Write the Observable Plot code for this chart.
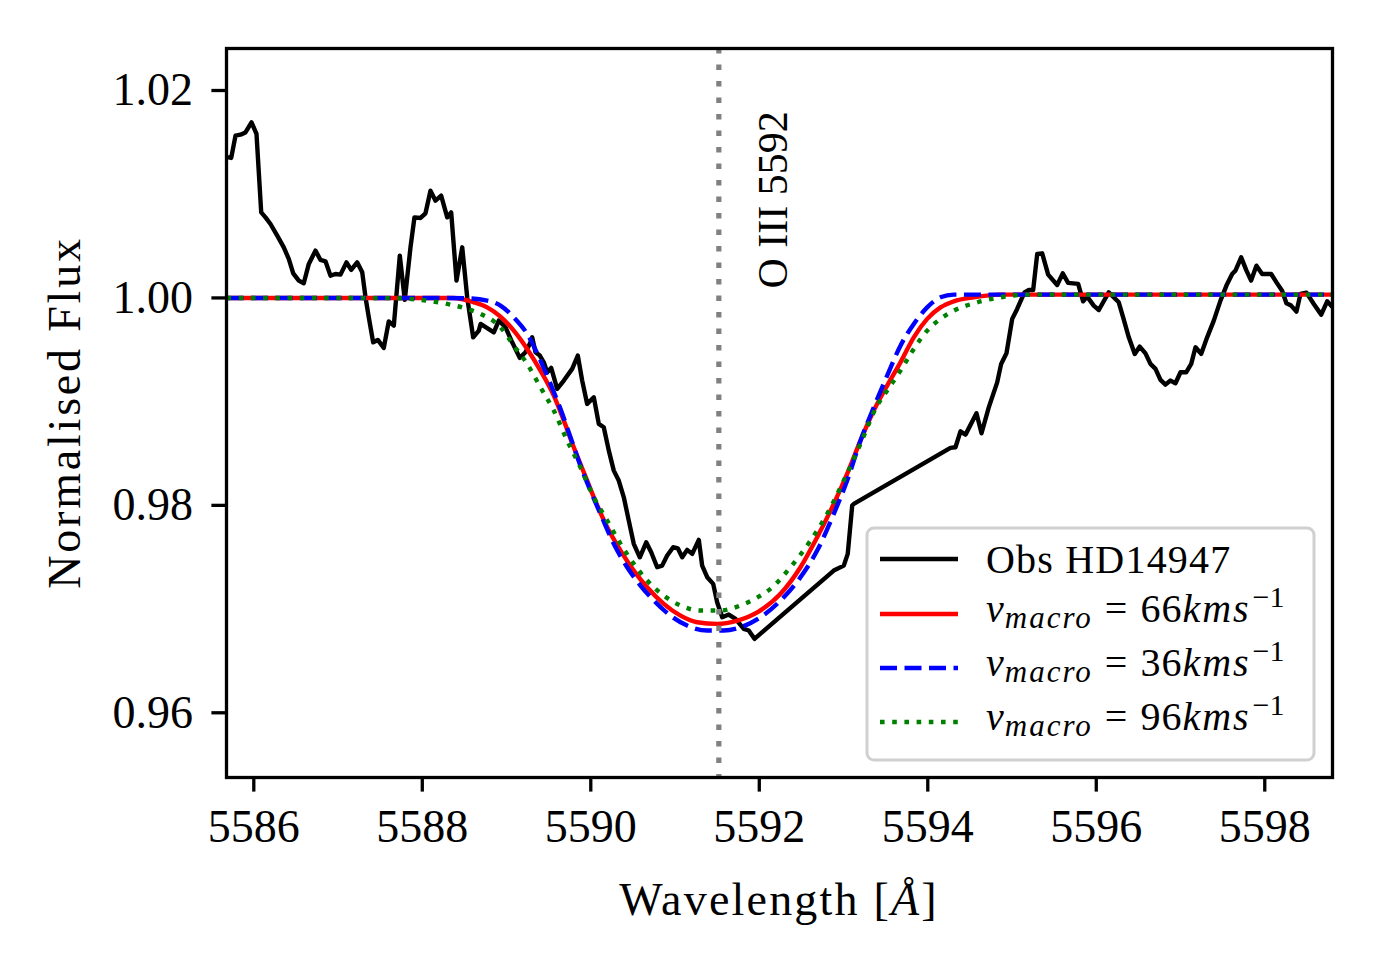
<!DOCTYPE html>
<html>
<head>
<meta charset="utf-8">
<script src="https://cdn.jsdelivr.net/npm/d3@7"></script>
<script src="https://cdn.jsdelivr.net/npm/@observablehq/plot@0.6"></script>
<style>
  html, body { margin: 0; padding: 0; background: #fff; }
  svg { display: block; }
</style>
</head>
<body>
<div id="chart"></div>
<script>
// ---------- data ----------
const xTicks = [5586, 5588, 5590, 5592, 5594, 5596, 5598];
const yTicks = [0.96, 0.98, 1.00, 1.02];
const xDomain = [5585.676, 5598.804];
const yDomain = [0.95376, 1.02405];

const lineCentre = 5591.52;          // vertical dotted marker
const annotationText = "O III 5592";
const annotationX = 5592.33;
const annotationY = 1.0009;

const obsWave = [5585.703,5585.732,5585.783,5585.842,5585.901,5585.973,5586.032,5586.088,5586.139,5586.198,
  5586.278,5586.356,5586.415,5586.468,5586.534,5586.593,5586.653,5586.732,5586.792,5586.851,
  5586.910,5586.970,5587.029,5587.100,5587.156,5587.227,5587.287,5587.326,5587.365,5587.417,
  5587.472,5587.543,5587.602,5587.662,5587.733,5587.792,5587.860,5587.907,5587.979,5588.038,
  5588.097,5588.157,5588.224,5588.296,5588.343,5588.406,5588.474,5588.533,5588.604,5588.671,
  5588.692,5588.849,5588.908,5588.988,5589.067,5589.157,5589.225,5589.276,5589.304,5589.344,
  5589.395,5589.442,5589.483,5589.530,5589.601,5589.680,5589.779,5589.846,5589.898,5589.957,
  5590.036,5590.095,5590.154,5590.214,5590.273,5590.332,5590.392,5590.451,5590.510,5590.582,
  5590.658,5590.717,5590.788,5590.847,5590.907,5590.978,5591.033,5591.085,5591.144,5591.204,
  5591.282,5591.322,5591.382,5591.453,5591.500,5591.560,5591.638,5591.718,5591.816,5591.875,
  5591.943,5592.884,5593.003,5593.050,5593.103,5593.122,5594.269,5594.329,5594.388,5594.448,
  5594.578,5594.638,5594.724,5594.824,5594.871,5594.934,5595.002,5595.061,5595.148,5595.199,
  5595.251,5595.299,5595.358,5595.429,5595.536,5595.602,5595.666,5595.785,5595.844,5595.892,
  5595.970,5596.030,5596.148,5596.267,5596.319,5596.386,5596.457,5596.516,5596.584,5596.643,
  5596.703,5596.762,5596.821,5596.881,5596.940,5597.000,5597.067,5597.127,5597.178,5597.245,
  5597.316,5597.395,5597.474,5597.545,5597.613,5597.652,5597.720,5597.779,5597.838,5597.901,
  5597.969,5598.076,5598.139,5598.206,5598.257,5598.313,5598.376,5598.424,5598.495,5598.582,
  5598.670,5598.741,5598.800];
const obsFlux = [1.01355,1.01350,1.01565,1.01574,1.01596,1.01693,1.01581,1.00825,1.00777,1.00713,
  1.00601,1.00488,1.00376,1.00237,1.00167,1.00141,1.00328,1.00456,1.00366,1.00353,
  1.00215,1.00231,1.00225,1.00343,1.00270,1.00343,1.00247,1.00006,0.99813,0.99572,
  0.99595,0.99518,0.99774,0.99733,1.00408,0.99981,1.00488,1.00777,1.00771,1.00816,
  1.01034,1.00938,1.00986,1.00777,1.00825,1.00167,1.00488,1.00006,0.99620,0.99685,
  0.99749,0.99668,0.99781,0.99717,0.99572,0.99422,0.99476,0.99557,0.99620,0.99476,
  0.99444,0.99379,0.99283,0.99325,0.99123,0.99203,0.99316,0.99444,0.99203,0.98978,
  0.99042,0.98785,0.98753,0.98528,0.98335,0.98239,0.98078,0.97853,0.97629,0.97499,
  0.97644,0.97548,0.97403,0.97419,0.97516,0.97596,0.97586,0.97499,0.97571,0.97532,
  0.97667,0.97419,0.97307,0.97243,0.97066,0.96921,0.96947,0.96906,0.96809,0.96793,
  0.96713,0.97371,0.97419,0.97532,0.97998,0.98014,0.98554,0.98560,0.98714,0.98682,
  0.98888,0.98695,0.98945,0.99186,0.99364,0.99466,0.99798,0.99894,1.00054,1.00077,
  1.00077,1.00424,1.00430,1.00225,1.00125,1.00237,1.00145,1.00135,0.99967,1.00013,
  0.99926,0.99884,1.00054,0.99958,0.99813,0.99620,0.99460,0.99531,0.99466,0.99364,
  0.99316,0.99210,0.99164,0.99203,0.99177,0.99283,0.99283,0.99364,0.99524,0.99460,
  0.99620,0.99781,0.99974,1.00119,1.00231,1.00263,1.00391,1.00270,1.00167,1.00311,
  1.00231,1.00231,1.00150,1.00070,0.99948,0.99926,0.99868,1.00039,1.00051,0.99942,
  0.99839,0.99967,0.99916];

// v_macro = 66 km/s (red)
const wave66 = [5585.676,5588.370,5588.611,5588.770,5588.928,5589.086,5589.245,5589.403,5589.561,5589.680,
  5589.798,5589.917,5590.036,5590.195,5590.353,5590.510,5590.669,5590.866,5591.065,5591.263,
  5591.500,5591.738,5591.991,5592.252,5592.489,5592.687,5592.884,5593.043,5593.201,5593.359,
  5593.518,5593.676,5593.834,5593.993,5594.151,5594.309,5594.546,5594.863,5598.804];
const flux66 = [1.00000,1.00000,0.99958,0.99909,0.99820,0.99685,0.99508,0.99299,0.99058,0.98817,
  0.98560,0.98319,0.98078,0.97789,0.97564,0.97371,0.97210,0.97050,0.96937,0.96873,
  0.96857,0.96889,0.96976,0.97147,0.97403,0.97692,0.98014,0.98303,0.98624,0.98914,
  0.99155,0.99379,0.99620,0.99798,0.99909,0.99967,1.00006,1.00032,1.00032];

// v_macro = 36 km/s (blue)
const wave36 = [5585.676,5587.979,5588.533,5588.770,5588.928,5589.086,5589.245,5589.403,5589.522,5589.640,
  5589.759,5589.877,5589.996,5590.115,5590.273,5590.432,5590.590,5590.748,5590.946,5591.144,
  5591.382,5591.579,5591.816,5592.014,5592.252,5592.489,5592.687,5592.884,5593.043,5593.201,
  5593.359,5593.518,5593.676,5593.834,5593.993,5594.151,5594.309,5598.804];
const flux36 = [1.00000,1.00000,0.99996,0.99974,0.99926,0.99813,0.99653,0.99396,0.99171,0.98930,
  0.98656,0.98383,0.98142,0.97918,0.97629,0.97403,0.97227,0.97082,0.96937,0.96841,
  0.96793,0.96793,0.96836,0.96921,0.97082,0.97307,0.97564,0.97918,0.98239,0.98624,
  0.98945,0.99251,0.99540,0.99749,0.99909,1.00006,1.00032,1.00032];

// v_macro = 96 km/s (green)
const wave96 = [5585.676,5587.658,5587.979,5588.296,5588.533,5588.691,5588.928,5589.086,5589.245,5589.403,
  5589.561,5589.720,5589.877,5590.036,5590.195,5590.353,5590.510,5590.669,5590.866,5591.065,
  5591.302,5591.539,5591.776,5591.975,5592.133,5592.370,5592.608,5592.806,5593.003,5593.201,
  5593.399,5593.534,5593.676,5593.834,5593.993,5594.151,5594.309,5594.546,5594.863,5595.180,
  5598.804];
const flux96 = [1.00000,0.99998,0.99981,0.99942,0.99894,0.99846,0.99717,0.99540,0.99364,0.99138,
  0.98914,0.98624,0.98367,0.98078,0.97853,0.97629,0.97436,0.97275,0.97130,0.97034,
  0.96986,0.96986,0.97034,0.97111,0.97195,0.97403,0.97660,0.97918,0.98239,0.98593,
  0.98962,0.99126,0.99299,0.99508,0.99685,0.99798,0.99878,0.99948,1.00006,1.00032,
  1.00032];

const legendLabels = ["Obs HD14947", "66", "36", "96"];

// ---------- tables ----------
const toRows = (w, f) => w.map((x, i) => ({x, y: f[i]}));
const obs = toRows(obsWave, obsFlux);
const m66 = toRows(wave66, flux66);
const m36 = toRows(wave36, flux36);
const m96 = toRows(wave96, flux96);

const FONT = "'Liberation Serif', 'DejaVu Serif', serif";

const chart = Plot.plot({
  width: 1380,
  height: 973,
  marginLeft: 226,
  marginRight: 48,
  marginTop: 48,
  marginBottom: 196,
  style: {fontFamily: FONT, fontSize: "46px", background: "white", color: "black"},
  x: {domain: xDomain},
  y: {domain: yDomain},
  marks: [
    Plot.line(obs, {x: "x", y: "y", stroke: "black", strokeWidth: 4.4, clip: true, strokeLinejoin: "round"}),
    Plot.line(m66, {x: "x", y: "y", stroke: "#ff0000", strokeWidth: 4.4, clip: true, curve: "monotone-x"}),
    Plot.line(m36, {x: "x", y: "y", stroke: "#0000ff", strokeWidth: 4.4, clip: true, curve: "monotone-x", strokeDasharray: "17,7.5", strokeLinecap: "butt"}),
    Plot.line(m96, {x: "x", y: "y", stroke: "#008000", strokeWidth: 4.4, clip: true, curve: "monotone-x", strokeDasharray: "4.6,7.6", strokeLinecap: "butt"}),
    Plot.ruleX([lineCentre], {stroke: "#808080", strokeWidth: 5.2, strokeDasharray: "5.5,11", strokeLinecap: "butt"}),
    Plot.text([annotationText], {x: () => annotationX, y: () => annotationY, text: d => d, rotate: -90,
      textAnchor: "start", lineAnchor: "bottom", fontSize: 42, fill: "black", fontFamily: FONT}),
    Plot.frame({stroke: "black", strokeWidth: 3.3}),
    Plot.axisX({ticks: xTicks, tickSize: 14.6, tickPadding: 17, fontSize: 46, label: null,
      tickFormat: d => String(d), strokeWidth: 3.3}),
    Plot.axisY({ticks: yTicks, tickSize: 14.6, tickPadding: 19, fontSize: 46, label: null,
      tickFormat: d3.format(".2f"), strokeWidth: 3.3})
  ]
});
document.getElementById("chart").appendChild(chart);

// ---------- axis titles & legend (text with mixed styles) ----------
const svg = d3.select(chart);
const xs = chart.scale("x"), ys = chart.scale("y");
const fx0 = xs.range[0], fx1 = xs.range[1];
const fy0 = ys.range[1], fy1 = ys.range[0];   // top, bottom

const xl = svg.append("text")
  .attr("x", (fx0 + fx1) / 2).attr("y", fy1 + 138)
  .attr("text-anchor", "middle").attr("font-family", FONT).attr("font-size", 46)
  .attr("letter-spacing", 2.2).attr("fill", "black");
xl.append("tspan").text("Wavelength [");
xl.append("tspan").attr("font-style", "italic").text("Å");
xl.append("tspan").text("]");

svg.append("text")
  .attr("transform", `translate(${fx0 - 146},${(fy0 + fy1) / 2}) rotate(-90)`)
  .attr("text-anchor", "middle").attr("font-family", FONT).attr("font-size", 46)
  .attr("letter-spacing", 2.8).attr("fill", "black")
  .text("Normalised Flux");

// legend box
const lg = svg.append("g").attr("text-anchor", "start").style("text-anchor", "start");
const bx0 = fx1 - 465, by0 = fy1 - 249, bw = 447, bh = 232;
lg.append("rect").attr("x", bx0).attr("y", by0).attr("width", bw).attr("height", bh)
  .attr("rx", 7).attr("ry", 7).attr("fill", "white").attr("fill-opacity", 0.85)
  .attr("stroke", "#d0d0d0").attr("stroke-width", 3);

const rowY = [31, 86, 140, 194];
const baseDy = [14, 8, 8, 8];
const styles = [
  {stroke: "black", dash: null},
  {stroke: "#ff0000", dash: null},
  {stroke: "#0000ff", dash: "17,7.5"},
  {stroke: "#008000", dash: "4.6,7.6"}
];
legendLabels.forEach((lab, i) => {
  const yy = by0 + rowY[i];
  const ln = lg.append("line").attr("x1", bx0 + 13).attr("x2", bx0 + 91)
    .attr("y1", yy).attr("y2", yy).attr("stroke", styles[i].stroke).attr("stroke-width", 4.4);
  if (styles[i].dash) ln.attr("stroke-dasharray", styles[i].dash);
  const t = lg.append("text").attr("x", bx0 + 119).attr("y", yy + baseDy[i])
    .attr("text-anchor", "start").style("text-anchor", "start")
    .attr("font-family", FONT).attr("font-size", 40).attr("fill", "black");
  if (i === 0) {
    t.attr("letter-spacing", 1.2).text(lab);
  } else {
    t.append("tspan").attr("font-style", "italic").text("v");
    t.append("tspan").attr("font-style", "italic").attr("font-size", 31).attr("letter-spacing", 2)
      .attr("dx", 1).attr("dy", 6).text("macro");
    t.append("tspan").attr("dx", 12).attr("dy", -6).text("=");
    t.append("tspan").attr("dx", 13).attr("letter-spacing", 1).text(lab);
    t.append("tspan").attr("font-style", "italic").attr("letter-spacing", 2).text("kms");
    t.append("tspan").attr("font-size", 30).attr("dx", 2).attr("dy", -15).text("−1");
  }
});
</script>
</body>
</html>
